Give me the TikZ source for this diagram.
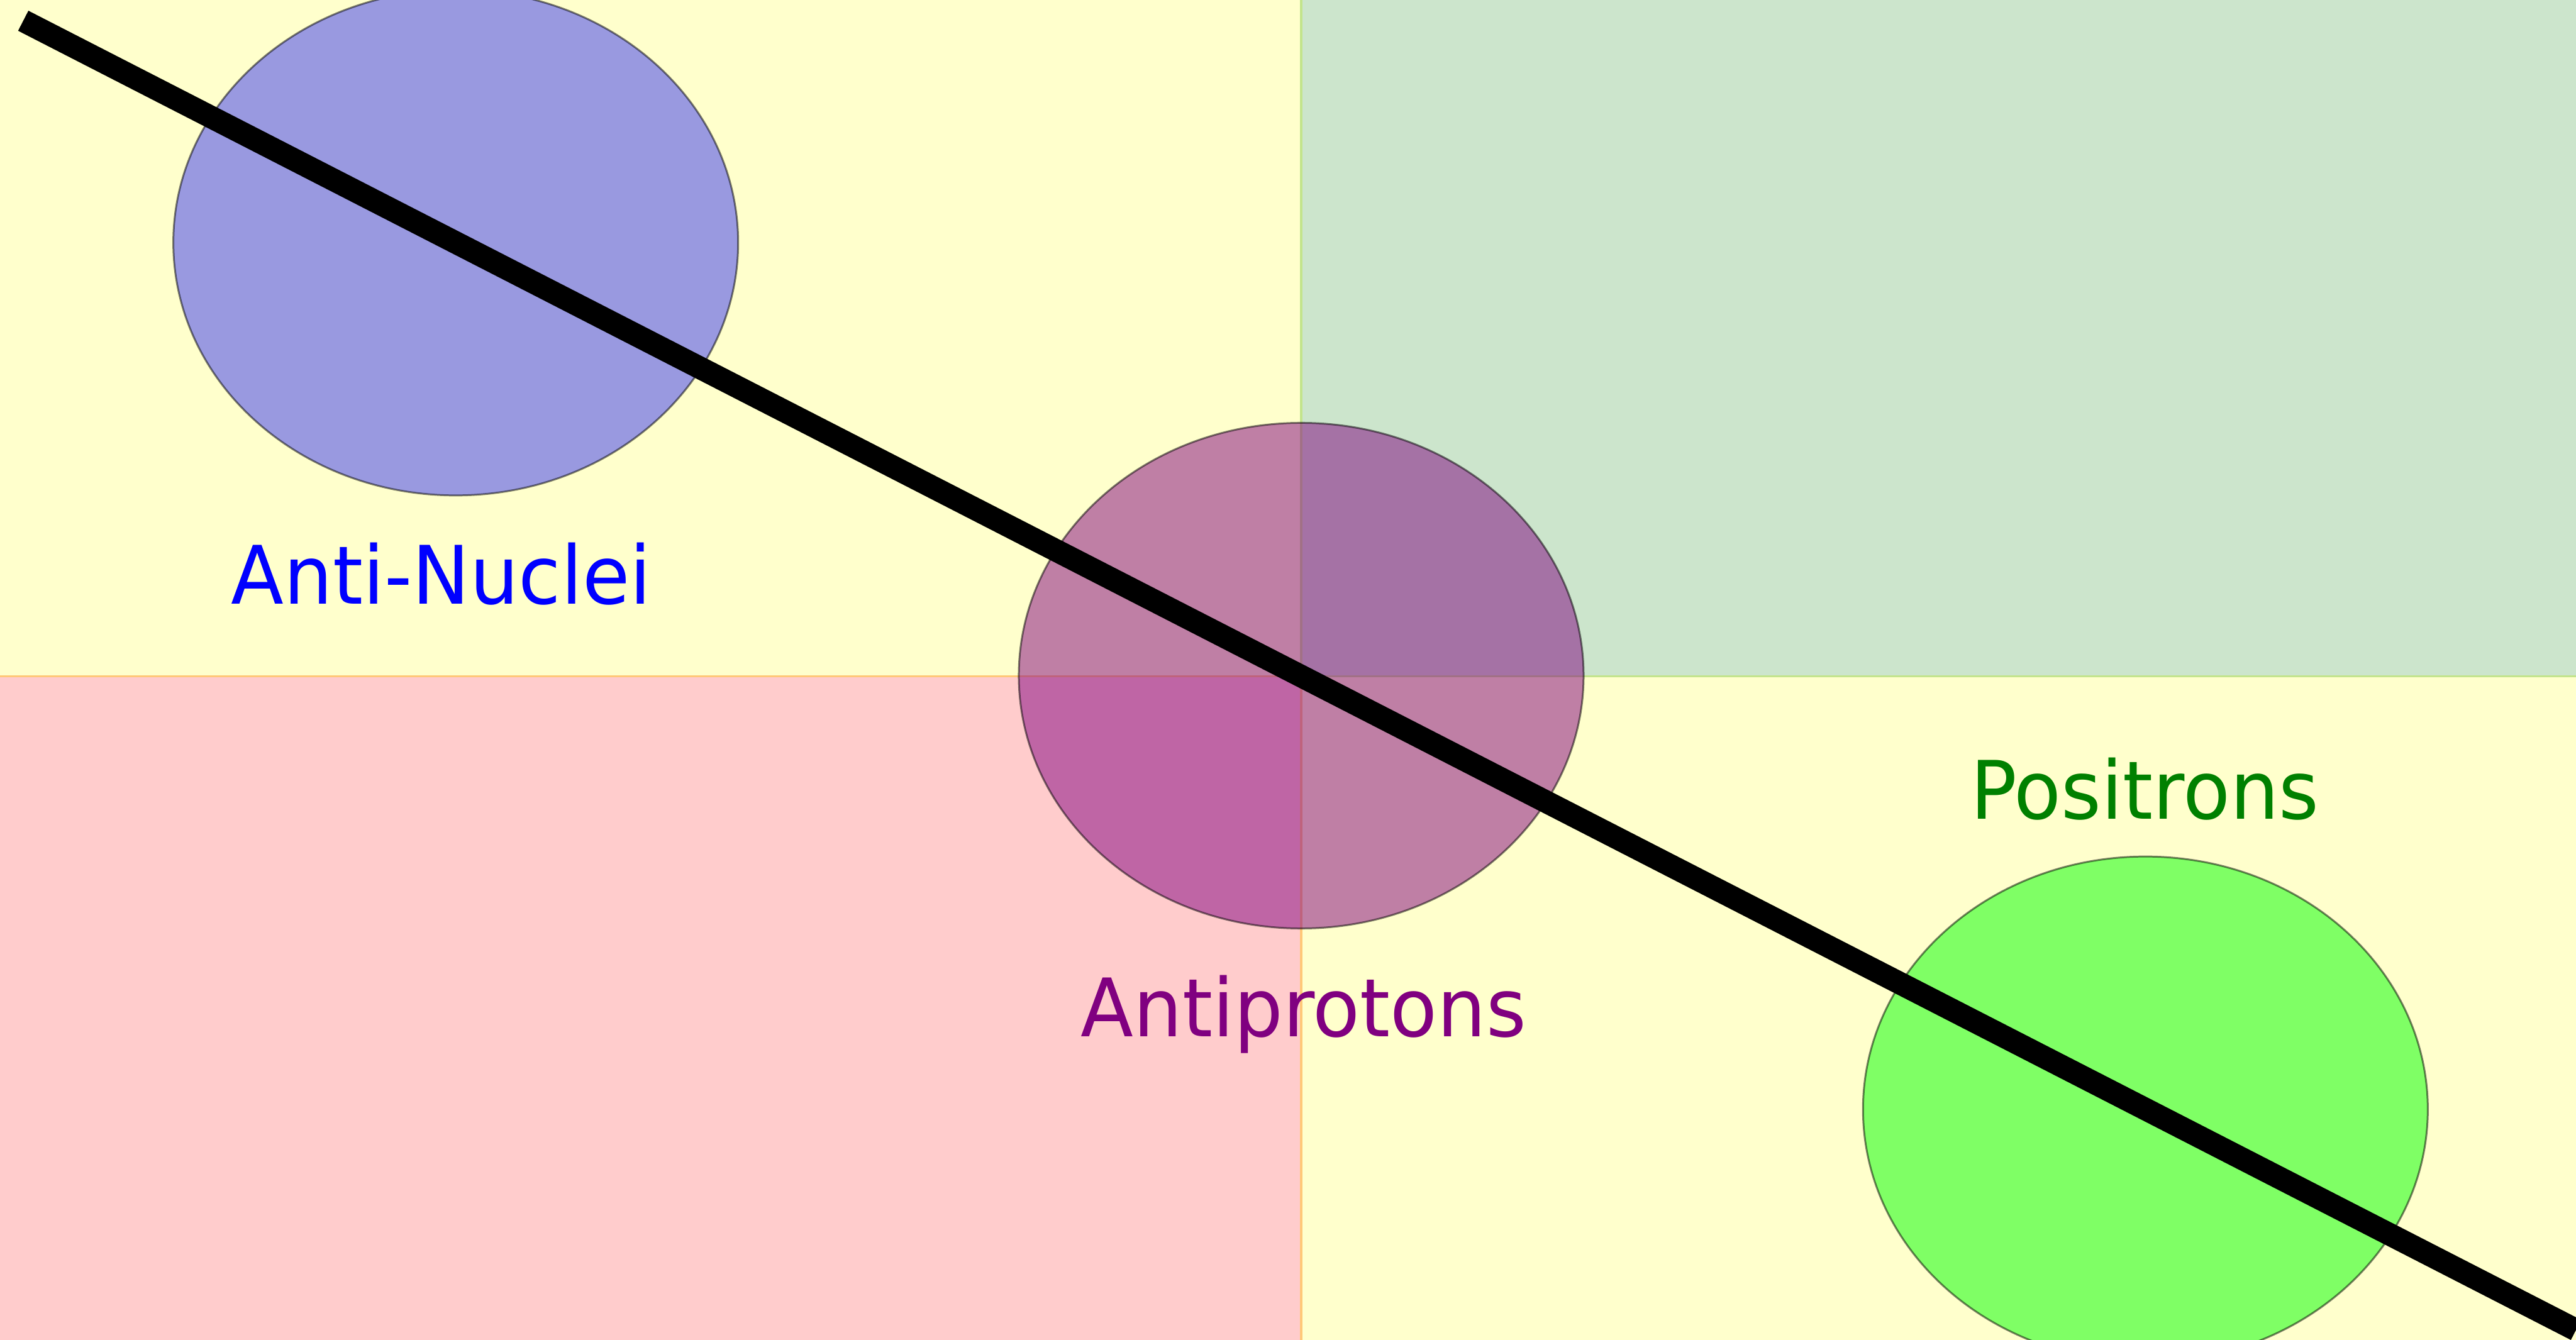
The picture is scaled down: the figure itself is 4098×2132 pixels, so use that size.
\documentclass[tikz,border=0pt]{standalone}
\usepackage{fontspec}
\setmainfont{DejaVu Sans}[FakeStretch=0.955]
\usetikzlibrary{shapes.geometric}
\definecolor{qyellow}{RGB}{255,255,0}
\definecolor{qgreen}{RGB}{0,128,0}
\definecolor{qred}{RGB}{255,0,0}
\definecolor{edgeorange}{RGB}{255,200,120}
\definecolor{edgegreen}{RGB}{195,228,140}
\definecolor{pblue}{RGB}{0,0,255}
\definecolor{ppurple}{RGB}{128,0,128}
\definecolor{pgreen}{RGB}{0,255,0}
\definecolor{lgreen}{RGB}{0,128,0}
\begin{document}
\begin{tikzpicture}[x=0.01cm,y=-0.01cm,
  quad/.style={fill opacity=0.2},
  seam/.style={line width=1.1pt},
  particle/.style={ellipse, minimum width=8.98cm, minimum height=8.04cm, inner sep=0pt,
    draw=black, draw opacity=0.5, line width=0.85pt},
  lab/.style={anchor=base, inner sep=0pt, font=\fontsize{36.5}{42}\selectfont},
  track/.style={line width=10.2pt, draw=black}]
\useasboundingbox (0,0) rectangle (4098,2132);
\fill[white] (0,0) rectangle (4098,2132);
% quadrants
\fill[quad, qyellow] (0,0) rectangle (2070,1076);
\fill[quad, qgreen] (2070,0) rectangle (4098,1076);
\fill[quad, qred] (0,1076) rectangle (2070,2132);
\fill[quad, qyellow] (2070,1076) rectangle (4098,2132);
% seams between quadrants
\coordinate (ctop) at (2070,0);
\coordinate (cmid) at (2070,1076);
\coordinate (cbot) at (2070,2132);
\coordinate (cleft) at (0,1076);
\coordinate (cright) at (4098,1076);
\draw[seam, edgeorange] (cleft) -- (cmid);
\draw[seam, edgegreen] (cmid) -- (cright);
\draw[seam, edgegreen] (ctop) -- (cmid);
\draw[seam, edgeorange] (cmid) -- (cbot);
% particles
\node[particle, fill=pblue, fill opacity=0.4] (nuclei) at (725,386) {};
\node[particle, fill=ppurple, fill opacity=0.5] (antip) at (2070,1075) {};
\node[particle, fill=pgreen, fill opacity=0.5] (posi) at (3413,1765) {};
% track
\coordinate (lstart) at (37,33);
\coordinate (lend) at (4098,2116);
\draw[track] (lstart) -- (lend);
% labels
\node[lab, text=pblue] (nucleilab) at (702,961) {Anti-Nuclei};
\node[lab, text=ppurple] (antiplab) at (2074,1649) {Antiprotons};
\node[lab, text=lgreen] (posilab) at (3412,1303) {Positrons};
\end{tikzpicture}
\end{document}
